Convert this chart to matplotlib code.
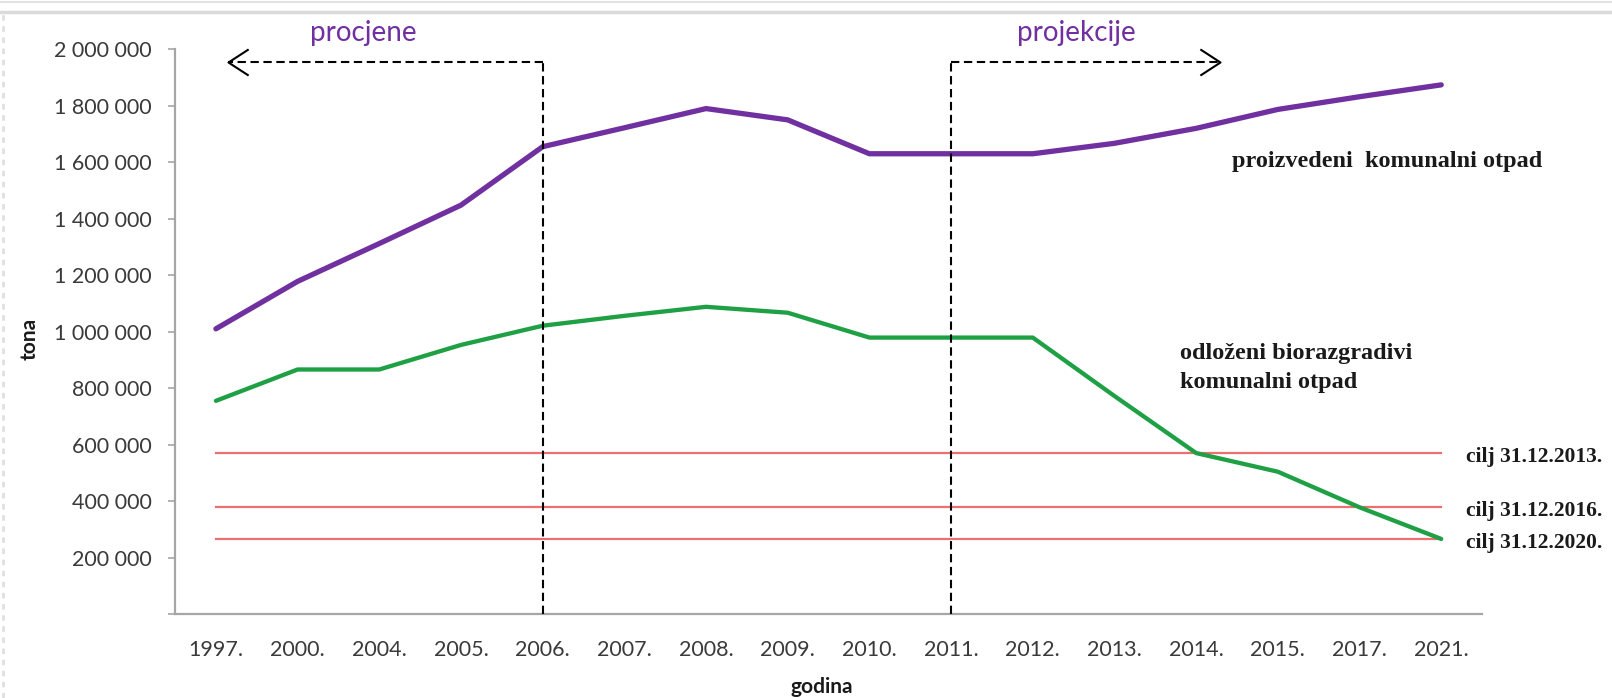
import matplotlib.pyplot as plt
from matplotlib.path import Path
from matplotlib.lines import Line2D
import numpy as np

# podaci (tona)
godine = ['1997.', '2000.', '2004.', '2005.', '2006.', '2007.', '2008.', '2009.',
          '2010.', '2011.', '2012.', '2013.', '2014.', '2015.', '2017.', '2021.']
proizvedeni = [1010000, 1178000, 1312000, 1448000, 1655000, 1722000, 1790000, 1750000,
               1630000, 1630000, 1630000, 1667000, 1720000, 1787000, 1832000, 1874000]
odlozeni = [755000, 866000, 866000, 953000, 1021000, 1056000, 1088000, 1067000,
            979000, 979000, 979000, 772000, 570000, 504000, 378000, 266000]
ciljevi = [570000, 380000, 266000]
ciljevi_oznake = ['cilj 31.12.2013.', 'cilj 31.12.2016.', 'cilj 31.12.2020.']

SANS = 'Lato'
SERIF = 'Liberation Serif'
LJUBICASTA = '#7030A0'
ZELENA = '#1FA045'
CRVENA = '#EF6E6E'

fig = plt.figure(figsize=(16.12, 6.98), dpi=100)
ax = fig.add_axes([0.1086, 0.1203, 0.8108, 0.8091])

x = np.arange(len(godine))

# ciljne linije
for c in ciljevi:
    ax.plot([x[0], x[-1]], [c, c], color=CRVENA, lw=1.6, zorder=2)

ax.plot(x, proizvedeni, color=LJUBICASTA, lw=3.8, solid_capstyle='round', zorder=3)
ax.plot(x, odlozeni, color=ZELENA, lw=3.1, solid_capstyle='round', zorder=3)

# procjene / projekcije
y_strelica = 1956000
granica_procjene = 4      # 2006.
granica_projekcije = 9    # 2011.
vrh_lijevo = 0.15
vrh_desno = 12.29
crtkano = dict(color='black', lw=1.5, linestyle=(0, (4, 2.2)), zorder=5)
ax.plot([granica_procjene, granica_procjene], [0, y_strelica], **crtkano)
ax.plot([granica_procjene, vrh_lijevo], [y_strelica, y_strelica], **crtkano)
ax.plot([granica_projekcije, granica_projekcije], [0, y_strelica], **crtkano)
ax.plot([granica_projekcije, vrh_desno], [y_strelica, y_strelica], **crtkano)

lijevi_vrh = Path([(1, 0.65), (0, 0), (1, -0.65)], [Path.MOVETO, Path.LINETO, Path.LINETO])
desni_vrh = Path([(-1, 0.65), (0, 0), (-1, -0.65)], [Path.MOVETO, Path.LINETO, Path.LINETO])
ax.plot([vrh_lijevo], [y_strelica], marker=lijevi_vrh, ms=29, mfc='none', mec='black',
        mew=1.5, zorder=6, clip_on=False)
ax.plot([vrh_desno], [y_strelica], marker=desni_vrh, ms=29, mfc='none', mec='black',
        mew=1.5, zorder=6, clip_on=False)

ax.text(1.8, 2058000, 'procjene', fontsize=20, family=SANS, color=LJUBICASTA,
        ha='center', va='center', clip_on=False)
ax.text(10.53, 2058000, 'projekcije', fontsize=20, family=SANS, color=LJUBICASTA,
        ha='center', va='center', clip_on=False)

# oznake serija
ax.text(12.44, 1604000, 'proizvedeni  komunalni otpad', fontsize=17.5, family=SERIF,
        weight='bold', color='#1a1a1a', ha='left', va='center')
ax.text(11.8, 872000, 'odloženi biorazgradivi\nkomunalni otpad', fontsize=17.5, family=SERIF,
        weight='bold', color='#1a1a1a', ha='left', va='center', linespacing=1.5)
for c, t in zip(ciljevi, ciljevi_oznake):
    ax.text(15.3, c - 15000, t, fontsize=15.5, family=SERIF, weight='bold',
            color='#1a1a1a', ha='left', va='center', clip_on=False)

# osi
ax.set_xlim(-0.5, 15.5)
ax.set_ylim(0, 2000000)
ax.set_xticks(x)
ax.set_xticklabels(godine, family=SANS, fontsize=15.5, color='#3a3a3a')
yt = np.arange(0, 2000001, 200000)
ax.set_yticks(yt)
ax.set_yticklabels([''] + ['{:,}'.format(v).replace(',', ' ') for v in yt[1:]],
                   family=SANS, fontsize=15.5, color='#3a3a3a')
ax.tick_params(axis='x', length=0, pad=19)
ax.tick_params(axis='y', length=5, width=1.2, color='#A6A6A6', pad=12)
for s in ['top', 'right']:
    ax.spines[s].set_visible(False)
for s in ['left', 'bottom']:
    ax.spines[s].set_color('#A6A6A6')
    ax.spines[s].set_linewidth(1.6)

fig.text(30 / 1612, 1 - 339 / 698, 'tona', rotation=90, family=SANS, weight='bold',
         fontsize=15, ha='center', va='center', color='#1a1a1a')
fig.text(822 / 1612, 1 - 687 / 698, 'godina', family=SANS, weight='bold',
         fontsize=15, ha='center', va='center', color='#1a1a1a')

# okvir snimke zaslona
fig.add_artist(Line2D([0, 1], [1 - 2 / 698, 1 - 2 / 698], color='#E2E2E2', lw=1.5))
fig.add_artist(Line2D([0, 1], [1 - 12 / 698, 1 - 12 / 698], color='#DADADA', lw=2.5))
fig.add_artist(Line2D([3 / 1612, 3 / 1612], [0, 1 - 14 / 698], color='#E0E0E0', lw=2,
                      linestyle=(0, (2, 2))))

fig.savefig('out.png', dpi=100)
